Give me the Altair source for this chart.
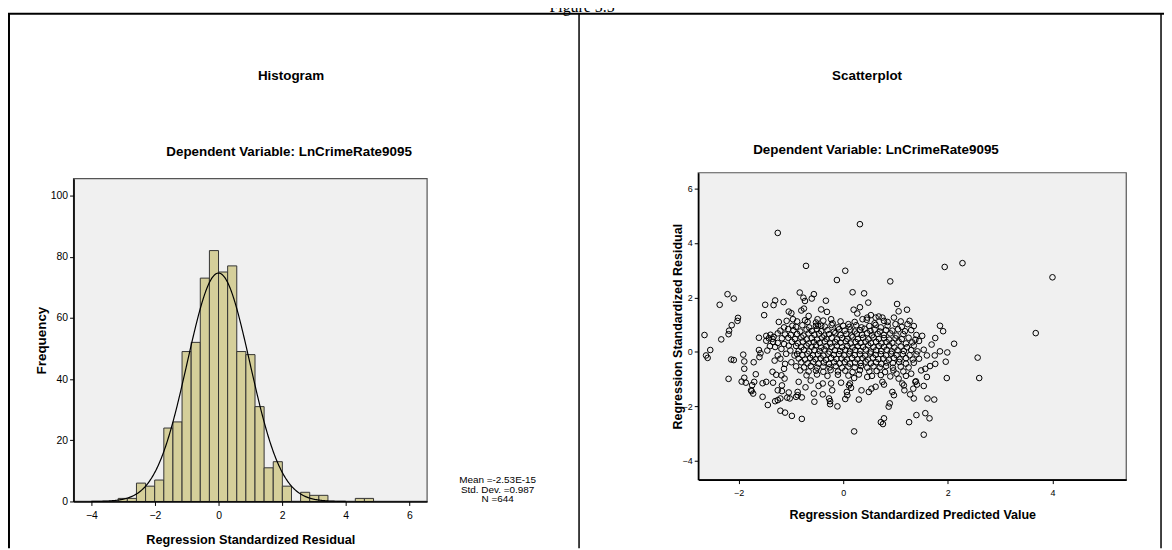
import altair as alt
import pandas as pd

# ---------------- data ----------------
# histogram of standardized residuals (bin index relative to 0, count)
bin_index = [-11, -10, -9, -8, -7, -6, -5, -4, -3, -2, -1, 0, 1, 2, 3, 4, 5, 6, 7, 8, 9, 10, 11, 12, 13, 14, 15, 16]
bin_count = [1, 1, 6, 5, 7, 24, 26, 49, 52, 73, 82, 75, 77, 49, 48, 31, 11, 13, 5, 0, 3, 2, 2, 0, 0, 0, 1, 1]
BIN_WIDTH = 0.2868
resid_mean = -2.53e-15
resid_sd = 0.987
resid_n = 644
stats_lines = ["Mean =-2.53E-15", "Std. Dev. =0.987", "N =644"]

hist_x_ticks = [-4, -2, 0, 2, 4, 6]
hist_y_ticks = [0, 20, 40, 60, 80, 100]
sc_x_ticks = [-2, 0, 2, 4]
sc_y_ticks = [-4, -2, 0, 2, 4, 6]

# scatter points (predicted, residual)
left_pts = [
    (-2.65, 0.62), (-2.54, 0.07), (-2.62, -0.13), (-2.59, -0.22), (-2.33, 0.46),
    (-2.21, 2.12), (-2.36, 1.73), (-2.09, 1.96),
    (-2.18, 0.78), (-2.19, 0.65), (-2.13, 0.98), (-2.02, 1.14), (-2.01, 1.25),
    (-2.14, -0.28), (-2.09, -0.30), (-1.91, -0.10), (-1.89, -0.35), (-1.89, -0.62), (-1.71, -0.38),
    (-2.19, -0.99), (-1.94, -1.09), (-1.86, -1.13), (-1.89, -0.95),
    (-1.70, -1.10), (-1.75, -1.44), (-1.72, -1.53), (-1.67, -0.82), (-1.76, -1.41), (-1.74, -1.22),
    (-1.54, -1.15), (-1.47, -1.10), (-1.54, -1.65), (-1.44, -1.95),
    (-1.35, -0.73), (-1.30, -1.81), (-1.25, -1.77), (-1.20, -2.16), (-1.11, -2.23), (-0.98, -2.35), (-0.79, -2.46),
    (-1.17, -1.44), (-1.04, -1.49), (-1.02, -1.71), (-0.87, -1.59), (-0.79, -1.67), (-0.87, -1.47),
    (-1.49, 1.73), (-1.51, 1.35), (-1.33, 1.72), (-1.30, 1.89), (-1.14, 1.83), (-1.25, 4.37),
    (-1.61, 0.52), (-1.61, 0.07), (-1.58, -0.05), (-1.60, -0.19), (-1.47, 0.59), (-1.39, 0.63), (-1.33, 0.55),
    (-1.23, 1.10), (-1.04, 1.48), (-0.99, 1.42), (-1.08, 1.14), (-0.96, 1.20), (-1.13, 0.90), (-1.05, 0.84),
    (-0.97, 0.96), (-1.11, 0.64), (-1.42, 0.50), (-1.47, 0.41), (-1.40, 0.21), (-1.34, 0.37), (-1.45, 0.05),
    (-1.17, 0.50), (-1.13, 0.29), (-1.18, 0.11), (-1.09, -0.07), (-1.25, -0.13), (-1.20, -0.25), (-1.31, -0.32),
    (-1.11, -0.44), (-1.13, -0.62), (-0.99, -0.38), (-0.93, -0.13), (-1.01, 0.05), (-1.04, 0.23),
    (-1.28, -0.84), (-1.34, -1.13), (-1.18, -0.86), (-1.12, -0.98), (-1.17, -1.23), (-1.25, -1.41),
    (-1.20, -1.71), (-1.07, -1.68), (-0.90, -1.65),
]
upper_pts = [
    (-0.71, 3.16), (-0.12, 2.64), (0.04, 2.98), (0.32, 4.69), (0.90, 2.59),
    (-0.83, 2.18), (-0.76, 1.99), (-0.73, 1.87), (-0.56, 2.12), (-0.60, 1.96), (-0.33, 1.88),
    (-0.80, 1.52), (-0.75, 1.59), (-0.42, 1.56), (-0.31, 1.47), (-0.66, 1.32), (-0.68, 1.10), (-0.73, 1.16),
    (-0.23, 1.20), (-0.49, 1.20), (-0.52, 0.96), (-0.42, 0.96),
    (0.18, 2.19), (0.40, 2.15), (0.48, 1.81), (0.20, 1.55), (0.32, 1.64), (0.27, 1.41),
    (0.46, 1.26), (0.53, 1.35), (0.62, 1.26), (0.68, 1.30), (0.75, 1.26), (0.37, 1.20), (0.78, 1.14),
]
right_pts = [
    (1.94, 3.12), (2.28, 3.26), (4.00, 2.74), (3.68, 0.69), (2.57, -0.21), (2.60, -0.96), (1.98, -0.96),
    (1.03, 1.76), (1.06, 1.49), (1.22, 1.55), (1.27, 1.14), (1.23, 1.02), (0.97, 1.26), (1.00, 1.02), (0.94, 0.78),
    (1.85, 0.96), (1.91, 0.76), (2.12, 0.30), (1.51, 0.59), (1.76, 0.51), (1.69, 0.27), (1.85, 0.02),
    (1.99, -0.02), (1.96, -0.36), (1.54, 0.08), (1.60, -0.13), (1.75, -0.13), (1.76, -0.44), (1.66, -0.52),
    (1.57, -0.62), (1.49, -0.68), (1.60, -0.92), (1.54, -1.25), (1.38, -1.10), (1.41, -1.20), (1.34, -1.35),
    (1.28, -1.56), (1.35, -1.71), (1.16, -1.23), (1.13, -1.16), (1.17, -1.41), (1.06, -0.98), (1.02, -0.80),
    (1.61, -1.71), (1.74, -1.75), (1.40, -2.32), (1.57, -2.25), (1.65, -2.44), (1.26, -2.58), (1.54, -3.04),
    (0.94, -1.47), (0.97, -1.59), (0.89, -1.89), (0.87, -2.01), (0.78, -2.44), (0.72, -2.58), (0.76, -2.65),
    (1.39, -1.08),
]
lower_pts = [
    (-0.55, -1.83), (-0.56, -1.53), (-0.39, -1.56), (-0.25, -1.81), (-0.25, -1.92), (-0.11, -2.00),
    (-0.21, -1.41), (-0.23, -1.16), (-0.04, -1.13), (0.13, -1.16), (0.15, -1.32),
    (0.07, -1.47), (0.08, -1.59), (0.04, -1.73), (0.30, -1.75), (0.21, -2.92),
    (0.35, -1.41), (0.49, -1.47), (0.54, -1.35), (0.62, -1.28), (0.75, -1.10), (0.78, -1.20),
    (0.11, -1.23), (0.46, -0.92), (0.21, -0.96), (-0.47, -1.25), (-0.39, -1.16), (-0.27, -1.71),
    (-0.72, -1.30), (-0.62, -1.05), (-0.85, -1.10),
]
core_pts = [
    (-0.88, 1.12), (-0.52, 1.08), (-0.38, 1.15), (-0.20, 1.05), (-0.05, 1.12), (0.10, 1.02), (0.22, 1.10),
    (0.45, 1.18), (0.60, 1.05), (0.85, 1.10), (1.10, 1.12),
    (-0.90, 0.92), (-0.78, 0.98), (-0.65, 0.90), (-0.48, 0.97), (-0.35, 0.93), (-0.22, 0.99), (-0.10, 0.90),
    (0.00, 0.96), (0.12, 0.92), (0.25, 0.98), (0.35, 0.90), (0.50, 0.95), (0.62, 0.99), (0.72, 0.90),
    (0.85, 0.96), (1.12, 0.92), (1.35, 0.95),
    (-1.20, 0.78), (-0.95, 0.80), (-0.82, 0.75), (-0.70, 0.82), (-0.60, 0.77), (-0.50, 0.84), (-0.42, 0.76),
    (-0.30, 0.80), (-0.18, 0.74), (-0.08, 0.83), (0.03, 0.78), (0.14, 0.82), (0.22, 0.75), (0.32, 0.80),
    (0.41, 0.85), (0.52, 0.77), (0.60, 0.82), (0.70, 0.75), (0.82, 0.80), (1.05, 0.83), (1.18, 0.76), (1.30, 0.80),
    (-1.25, 0.68), (-1.00, 0.62), (-0.88, 0.66), (-0.76, 0.60), (-0.66, 0.68), (-0.55, 0.63), (-0.46, 0.67),
    (-0.36, 0.60), (-0.27, 0.65), (-0.15, 0.69), (-0.05, 0.62), (0.06, 0.66), (0.16, 0.60), (0.26, 0.67),
    (0.36, 0.63), (0.46, 0.69), (0.55, 0.61), (0.66, 0.66), (0.78, 0.62), (0.90, 0.68), (1.02, 0.60),
    (1.15, 0.65), (1.40, 0.62),
    (-1.35, 0.48), (-1.05, 0.52), (-0.92, 0.47), (-0.80, 0.53), (-0.70, 0.46), (-0.60, 0.51), (-0.50, 0.45),
    (-0.40, 0.53), (-0.32, 0.48), (-0.22, 0.52), (-0.12, 0.46), (-0.02, 0.51), (0.08, 0.48), (0.18, 0.54),
    (0.28, 0.47), (0.38, 0.52), (0.48, 0.46), (0.58, 0.53), (0.68, 0.48), (0.78, 0.51), (0.88, 0.45),
    (1.00, 0.50), (1.12, 0.47), (1.25, 0.52), (1.38, 0.45),
    (-1.25, 0.33), (-0.98, 0.37), (-0.87, 0.32), (-0.77, 0.38), (-0.66, 0.31), (-0.56, 0.36), (-0.45, 0.33),
    (-0.35, 0.38), (-0.25, 0.31), (-0.15, 0.36), (-0.05, 0.34), (0.05, 0.39), (0.14, 0.31), (0.24, 0.36),
    (0.33, 0.33), (0.43, 0.38), (0.53, 0.32), (0.63, 0.37), (0.73, 0.31), (0.83, 0.36), (0.94, 0.33),
    (1.06, 0.38), (1.20, 0.31), (1.32, 0.35), (1.45, 0.40),
    (-1.30, 0.18), (-0.90, 0.22), (-0.80, 0.17), (-0.70, 0.23), (-0.60, 0.19), (-0.52, 0.24), (-0.42, 0.16),
    (-0.32, 0.21), (-0.22, 0.18), (-0.12, 0.23), (-0.02, 0.17), (0.08, 0.22), (0.18, 0.16), (0.28, 0.21),
    (0.38, 0.18), (0.48, 0.24), (0.58, 0.17), (0.68, 0.22), (0.78, 0.19), (0.88, 0.23), (0.98, 0.16),
    (1.10, 0.20), (1.22, 0.17), (1.35, 0.23),
    (-0.85, 0.04), (-0.75, 0.08), (-0.65, 0.02), (-0.55, 0.07), (-0.45, 0.03), (-0.36, 0.09), (-0.26, 0.01),
    (-0.16, 0.06), (-0.06, 0.03), (0.04, 0.08), (0.13, 0.02), (0.23, 0.07), (0.33, 0.04), (0.43, 0.09),
    (0.53, 0.01), (0.63, 0.06), (0.73, 0.03), (0.83, 0.08), (0.93, 0.02), (1.04, 0.06), (1.16, 0.03),
    (1.30, 0.07), (1.42, 0.02),
    (-0.88, -0.08), (-0.78, -0.12), (-0.68, -0.07), (-0.58, -0.13), (-0.48, -0.09), (-0.38, -0.14),
    (-0.28, -0.07), (-0.18, -0.11), (-0.08, -0.08), (0.02, -0.13), (0.12, -0.07), (0.22, -0.12),
    (0.32, -0.09), (0.42, -0.14), (0.52, -0.06), (0.62, -0.11), (0.72, -0.08), (0.82, -0.13),
    (0.92, -0.07), (1.02, -0.12), (1.14, -0.08), (1.27, -0.12), (1.40, -0.09),
    (-0.85, -0.24), (-0.73, -0.28), (-0.63, -0.22), (-0.53, -0.27), (-0.43, -0.23), (-0.33, -0.29),
    (-0.23, -0.22), (-0.13, -0.26), (-0.03, -0.24), (0.07, -0.28), (0.17, -0.22), (0.27, -0.27),
    (0.37, -0.23), (0.47, -0.28), (0.57, -0.21), (0.67, -0.26), (0.77, -0.24), (0.87, -0.29),
    (0.97, -0.22), (1.08, -0.27), (1.20, -0.23), (1.33, -0.28), (1.45, -0.25),
    (-0.80, -0.38), (-0.68, -0.42), (-0.57, -0.37), (-0.47, -0.43), (-0.37, -0.39), (-0.27, -0.44),
    (-0.17, -0.38), (-0.07, -0.42), (0.03, -0.37), (0.13, -0.43), (0.23, -0.39), (0.33, -0.41),
    (0.43, -0.36), (0.53, -0.42), (0.63, -0.38), (0.73, -0.44), (0.83, -0.39), (0.95, -0.41),
    (1.07, -0.37), (1.20, -0.43), (1.35, -0.40),
    (-0.90, -0.53), (-0.75, -0.57), (-0.62, -0.52), (-0.50, -0.58), (-0.38, -0.54), (-0.26, -0.57),
    (-0.14, -0.52), (-0.02, -0.58), (0.10, -0.54), (0.22, -0.57), (0.34, -0.52), (0.46, -0.58),
    (0.58, -0.53), (0.70, -0.57), (0.82, -0.52), (0.95, -0.58), (1.10, -0.54), (1.25, -0.57),
    (-0.82, -0.68), (-0.66, -0.72), (-0.52, -0.69), (-0.38, -0.73), (-0.24, -0.67), (-0.10, -0.72),
    (0.04, -0.69), (0.18, -0.74), (0.32, -0.67), (0.50, -0.72), (0.64, -0.70), (0.80, -0.74),
    (0.96, -0.68), (1.15, -0.72), (1.30, -0.80),
    (-0.70, -0.86), (-0.50, -0.83), (-0.30, -0.88), (-0.10, -0.84), (0.10, -0.87), (0.30, -0.83),
    (0.55, -0.88), (0.72, -0.85), (0.90, -0.90), (1.20, -0.88),
]

# ---------------- tables ----------------
hist_df = pd.DataFrame({"idx": bin_index, "count": bin_count})
hist_df = hist_df[hist_df["count"] > 0].copy()
hist_df["x0"] = hist_df["idx"] * BIN_WIDTH
hist_df["x1"] = (hist_df["idx"] + 1) * BIN_WIDTH

scatter_df = pd.DataFrame(left_pts + upper_pts + core_pts + lower_pts + right_pts,
                          columns=["pred", "resid"])

# ---------------- layout (view pixels) ----------------
W, H = 1164, 542
H_X = [66, 422]
H_Y = [495, 170]
S_X = [695, 1126]
S_Y = [473, 164]
H_DOM_X = [-4.56, 6.56]
H_DOM_Y = [0, 105.5]
S_DOM_X = [-2.77, 5.41]
S_DOM_Y = [-4.69, 6.58]

NARROW = "Liberation Sans Narrow, Arial Narrow, Liberation Sans, sans-serif"
SERIF = "Liberation Serif, Times New Roman, serif"
BG = "#f0f0f0"
one = pd.DataFrame({"k": [0]})

axis_common = dict(
    grid=False, tickColor="black", tickSize=4, tickWidth=1,
    domainColor="black", domainWidth=1.6,
    labelColor="black", labelFont=NARROW,
    titleColor="black", titleFont=NARROW, titleFontWeight="bold",
    zindex=1,
)

hx = alt.Scale(domain=H_DOM_X, range=H_X, nice=False, zero=False)
hy = alt.Scale(domain=H_DOM_Y, range=H_Y, nice=False, zero=False)
hist_x_axis = alt.Axis(orient="bottom", offset=H_Y[0] - H, values=hist_x_ticks, format="d",
                       title="Regression Standardized Residual", titleY=38, titleBaseline="middle",
                       titleFontSize=12.8, labelFontSize=10.5, labelPadding=5, **axis_common)
hist_y_axis = alt.Axis(orient="left", offset=-H_X[0], values=hist_y_ticks, format="d",
                       title="Frequency", titleX=-32, titleBaseline="middle",
                       titleFontSize=13.5, labelFontSize=10.5, labelPadding=2, **axis_common)

hist_frame = pd.DataFrame({"x0": [H_DOM_X[0]], "x1": [H_DOM_X[1]], "y0": [H_DOM_Y[0]], "y1": [H_DOM_Y[1]]})
hist_bg = alt.Chart(hist_frame).mark_rect(fill=BG, stroke="#555555", strokeWidth=1.2).encode(
    x=alt.X("x0:Q", scale=hx, axis=hist_x_axis), x2="x1",
    y=alt.Y("y0:Q", scale=hy, axis=hist_y_axis), y2="y1")
bars = alt.Chart(hist_df).mark_rect(fill="#d5cf9a", stroke="#333333", strokeWidth=1).encode(
    x=alt.X("x0:Q", scale=hx, axis=hist_x_axis), x2="x1",
    y=alt.Y("count:Q", scale=hy, axis=hist_y_axis), y2=alt.datum(0))
curve = alt.Chart(alt.sequence(-4.0, 4.01, 0.02, as_="r")).transform_calculate(
    freq=f"{resid_n}*{BIN_WIDTH}*densityNormal(datum.r, {resid_mean}, {resid_sd})"
).mark_line(color="black", strokeWidth=1.2).encode(
    x=alt.X("r:Q", scale=hx, axis=hist_x_axis),
    y=alt.Y("freq:Q", scale=hy, axis=hist_y_axis))
hist = alt.layer(hist_bg, bars, curve)

sx = alt.Scale(domain=S_DOM_X, range=S_X, nice=False, zero=False)
sy = alt.Scale(domain=S_DOM_Y, range=S_Y, nice=False, zero=False)
sc_x_axis = alt.Axis(orient="bottom", offset=S_Y[0] - H, values=sc_x_ticks, format="d",
                     title="Regression Standardized Predicted Value", titleY=35, titleBaseline="middle",
                     titleFontSize=12.6, labelFontSize=9, labelPadding=5, **axis_common)
sc_y_axis = alt.Axis(orient="left", offset=-S_X[0], values=sc_y_ticks, format="d",
                     title="Regression Standardized Residual", titleX=-21, titleBaseline="middle",
                     titleFontSize=12.6, labelFontSize=9, labelPadding=2, **axis_common)
sc_frame = pd.DataFrame({"x0": [S_DOM_X[0]], "x1": [S_DOM_X[1]], "y0": [S_DOM_Y[0]], "y1": [S_DOM_Y[1]]})
sc_bg = alt.Chart(sc_frame).mark_rect(fill=BG, stroke="#555555", strokeWidth=1.2).encode(
    x=alt.X("x0:Q", scale=sx, axis=sc_x_axis), x2="x1",
    y=alt.Y("y0:Q", scale=sy, axis=sc_y_axis), y2="y1")
points = alt.Chart(scatter_df).mark_point(shape="circle", filled=False, color="black",
                                          size=32, strokeWidth=1, opacity=1).encode(
    x=alt.X("pred:Q", scale=sx, axis=sc_x_axis),
    y=alt.Y("resid:Q", scale=sy, axis=sc_y_axis))
scat = alt.layer(sc_bg, points)


def label(text, x, y, size=13.5, weight="bold", font=NARROW, baseline="middle"):
    return alt.Chart(one).mark_text(text=text, font=font, fontSize=size, fontWeight=weight,
                                    baseline=baseline, align="center", color="black").encode(
        x=alt.value(x), y=alt.value(y))


def rule(x, x2, y, y2, w):
    return alt.Chart(one).mark_rule(color="black", strokeWidth=w).encode(
        x=alt.value(x), x2=alt.value(x2), y=alt.value(y), y2=alt.value(y2))


decor = [
    label("Figure 5.5", 578, 2, size=16, weight="normal", font=SERIF, baseline="alphabetic"),
    rule(0, W, 4, 4, 2),
    rule(1, 1, 4, H, 2),
    rule(575, 575, 4, H, 1.5),
    rule(1161, 1161, 4, H, 1.5),
    label("Histogram", 285, 67),
    label("Dependent Variable: LnCrimeRate9095", 283, 143),
    label("Scatterplot", 865, 67),
    label("Dependent Variable: LnCrimeRate9095", 874, 141),
    label(stats_lines[0], 493, 473, size=10, weight="normal"),
    label(stats_lines[1], 493, 483, size=10, weight="normal"),
    label(stats_lines[2], 493, 493, size=10, weight="normal"),
]

chart = alt.layer(hist, scat, *decor).resolve_scale(
    x="independent", y="independent"
).properties(
    width=W, height=H, padding=0, autosize=alt.AutoSizeParams(type="none"), background="white"
).configure_view(stroke=None)

chart.save("out.html", embed_options={"renderer": "svg", "actions": False})
